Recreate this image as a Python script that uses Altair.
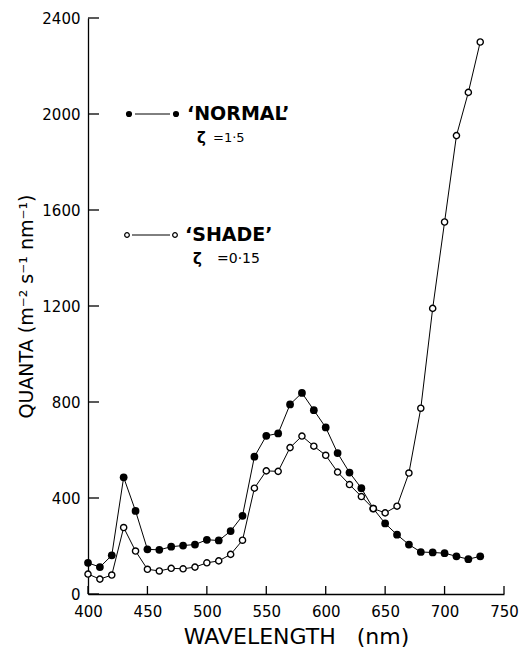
import altair as alt
import pandas as pd

# ---- data ----
wavelength = [400, 410, 420, 430, 440, 450, 460, 470, 480, 490,
              500, 510, 520, 530, 540, 550, 560, 570, 580, 590,
              600, 610, 620, 630, 640, 650, 660, 670, 680, 690,
              700, 710, 720, 730]
normal = [130, 112, 161, 486, 346, 186, 184, 197, 202, 206,
          226, 223, 262, 326, 572, 659, 669, 790, 838, 766,
          694, 587, 506, 441, 356, 294, 247, 206, 175, 173,
          170, 157, 145, 157]
shade = [83, 62, 79, 277, 179, 103, 96, 107, 105, 112,
         130, 138, 165, 224, 441, 513, 511, 610, 658, 616,
         578, 508, 456, 406, 356, 338, 366, 504, 774, 1190,
         1550, 1910, 2090, 2300]
x_ticks = [400, 450, 500, 550, 600, 650, 700, 750]
y_ticks = [0, 400, 800, 1200, 1600, 2000, 2400]

df = pd.DataFrame({"wl": wavelength, "normal": normal, "shade": shade})

W, H = 416, 576
FONT = "DejaVu Sans"

xs = alt.Scale(domain=[400, 750], nice=False, zero=False)
ys = alt.Scale(domain=[0, 2400], nice=False)

x_axis = alt.Axis(values=x_ticks, format="d", title="WAVELENGTH\u00a0\u00a0\u00a0(nm)", tickSize=0,
                  labelPadding=10, labelFlush=False, grid=False,
                  domainColor="black", domainWidth=1.3,
                  labelFont=FONT, labelFontSize=15, labelColor="black",
                  titleFont=FONT, titleFontSize=22, titleFontWeight="normal",
                  titleColor="black", titlePadding=7)
y_axis = alt.Axis(values=y_ticks, format="d", title="QUANTA (m⁻² s⁻¹ nm⁻¹)", tickSize=0,
                  labelPadding=8, labelFlush=False, grid=False,
                  domainColor="black", domainWidth=1.3,
                  labelFont=FONT, labelFontSize=15, labelColor="black",
                  titleFont=FONT, titleFontSize=19, titleFontWeight="normal",
                  titleColor="black", titlePadding=5)


def X(f):
    return alt.X(f, scale=xs, axis=x_axis)


def Y(f):
    return alt.Y(f, scale=ys, axis=y_axis)


base = alt.Chart(df)

shade_line = base.mark_line(color="black", strokeWidth=1).encode(x=X("wl:Q"), y=Y("shade:Q"))
normal_line = base.mark_line(color="black", strokeWidth=1).encode(x=X("wl:Q"), y=Y("normal:Q"))
normal_pts = base.mark_circle(color="black", size=60, opacity=1).encode(x=X("wl:Q"), y=Y("normal:Q"))
shade_pts = base.mark_circle(fill="white", stroke="black", strokeWidth=1.4,
                             size=38, opacity=1).encode(x=X("wl:Q"), y=Y("shade:Q"))

# inward ticks
xt = alt.Chart(pd.DataFrame({"t": x_ticks})).mark_rule(color="black", strokeWidth=1.3).encode(
    x=X("t:Q"), y=alt.value(H), y2=alt.value(H - 8))
yt = alt.Chart(pd.DataFrame({"t": y_ticks})).mark_rule(color="black", strokeWidth=1.3).encode(
    y=Y("t:Q"), x=alt.value(0), x2=alt.value(11))

# legend (annotation)
one = pd.DataFrame({"a": [0]})


def txt(s, x, y, size, weight="normal"):
    return alt.Chart(one).mark_text(text=s, font=FONT, fontSize=size, fontWeight=weight,
                                    align="left", baseline="middle", color="black").encode(
        x=alt.value(x), y=alt.value(y))


leg = [
    alt.Chart(one).mark_rule(color="black", strokeWidth=1).encode(
        x=alt.value(47), x2=alt.value(82), y=alt.value(96)),
    alt.Chart(one).mark_circle(color="black", size=38, opacity=1).encode(
        x=alt.value(41), y=alt.value(96)),
    alt.Chart(one).mark_circle(color="black", size=38, opacity=1).encode(
        x=alt.value(88), y=alt.value(96)),
    txt("‘NORMAL’", 99, 96, 19, "bold"),
    txt("ζ", 109, 120, 15, "bold"),
    txt("=1·5", 125, 120, 13),
    alt.Chart(one).mark_rule(color="black", strokeWidth=1).encode(
        x=alt.value(44), x2=alt.value(82), y=alt.value(217)),
    alt.Chart(one).mark_circle(fill="white", stroke="black", strokeWidth=1.2, size=22, opacity=1).encode(
        x=alt.value(39), y=alt.value(217)),
    alt.Chart(one).mark_circle(fill="white", stroke="black", strokeWidth=1.2, size=22, opacity=1).encode(
        x=alt.value(87), y=alt.value(217)),
    txt("‘SHADE’", 97, 217, 19, "bold"),
    txt("ζ", 105, 241, 15, "bold"),
    txt("=0·15", 129, 241, 14),
]

chart = alt.layer(shade_line, normal_line, normal_pts, shade_pts, xt, yt, *leg).properties(
    width=W, height=H,
    autosize=alt.AutoSizeParams(type="none"),
    padding={"left": 80, "top": 10, "right": 15, "bottom": 56},
    background="white",
).configure_view(stroke=None)

chart.save("out.html", embed_options={"renderer": "svg", "actions": False})
